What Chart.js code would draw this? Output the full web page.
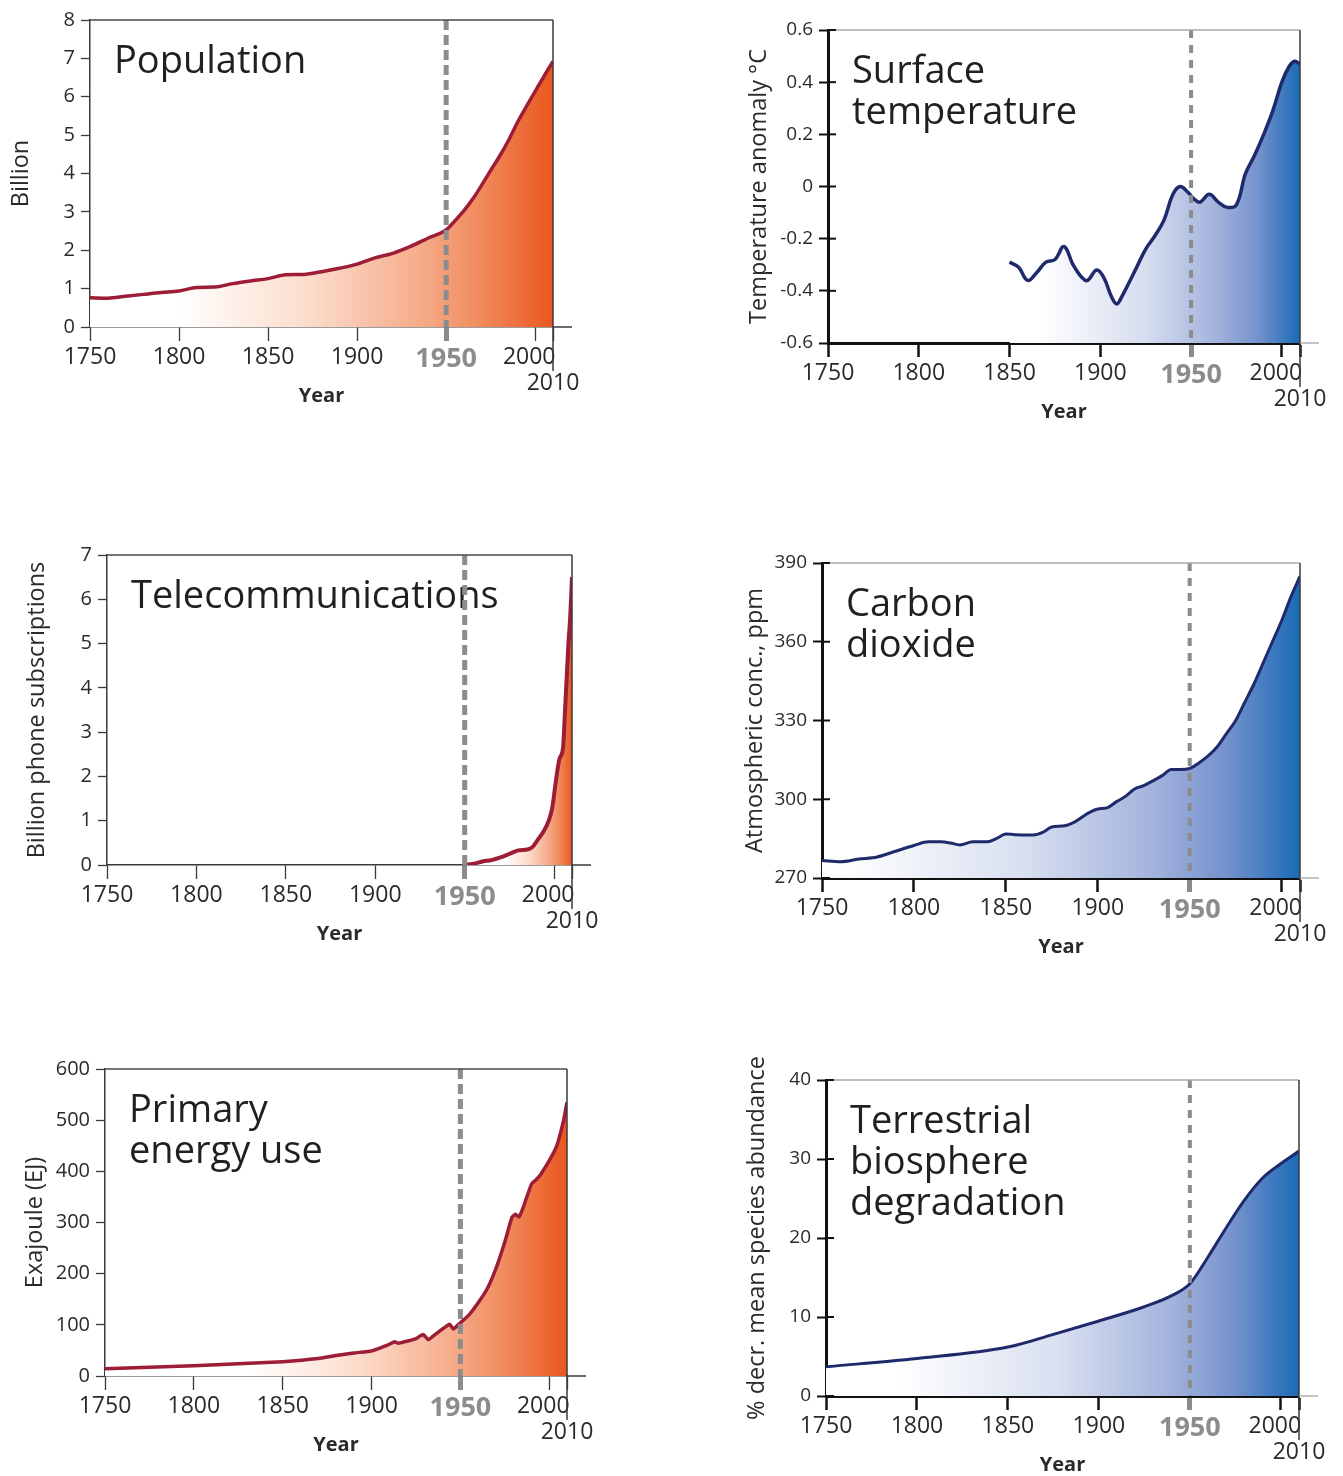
<!DOCTYPE html>
<html>
<head>
<meta charset="utf-8">
<title>Socio-economic and Earth system trends</title>
<script src="https://cdn.jsdelivr.net/npm/chart.js@4.4.1/dist/chart.umd.min.js"></script>
<style>
  body { margin: 0; background: #fff; }
  canvas { position: absolute; }
</style>
</head>
<body>
<canvas id="popChart" width="640" height="430" style="left:0;top:0"></canvas>
<canvas id="tempChart" width="613" height="440" style="left:730px;top:0"></canvas>
<canvas id="phoneChart" width="640" height="440" style="left:0;top:520px"></canvas>
<canvas id="co2Chart" width="613" height="450" style="left:730px;top:520px"></canvas>
<canvas id="energyChart" width="640" height="446" style="left:0;top:1030px"></canvas>
<canvas id="bioChart" width="613" height="436" style="left:730px;top:1040px"></canvas>

<script>
// shared year axis
const yearTicks = [1750, 1800, 1850, 1900, 1950, 2000, 2010];
const yearTickLabels = ["1750", "1800", "1850", "1900", "1950", "2000  ", ["", "2010"]];
const markYear = 1950;

// population, billion
const popYears = [1750, 1760, 1770, 1780, 1790, 1800, 1810, 1820, 1830, 1840, 1850, 1860, 1870, 1880, 1890, 1900, 1910, 1920, 1930, 1940, 1950, 1955, 1960, 1965, 1970, 1975, 1980, 1985, 1990, 1995, 2000, 2005, 2010];
const popBillion = [0.76, 0.75, 0.8, 0.85, 0.9, 0.94, 1.03, 1.04, 1.13, 1.2, 1.26, 1.36, 1.37, 1.44, 1.53, 1.64, 1.8, 1.92, 2.1, 2.32, 2.53, 2.77, 3.03, 3.34, 3.7, 4.08, 4.45, 4.86, 5.33, 5.74, 6.14, 6.54, 6.92];
const popTicks = [0, 1, 2, 3, 4, 5, 6, 7, 8];

// surface temperature anomaly, °C
const tempYears = [1850, 1855, 1860, 1865, 1870, 1875, 1880, 1885, 1890, 1893, 1898, 1902, 1906, 1909, 1912, 1920, 1925, 1930, 1935, 1940, 1944, 1948, 1952, 1955, 1960, 1965, 1970, 1975, 1980, 1985, 1990, 1995, 2000, 2004, 2007, 2010];
const tempAnomaly = [-0.29, -0.31, -0.36, -0.33, -0.29, -0.28, -0.23, -0.3, -0.35, -0.36, -0.32, -0.35, -0.42, -0.45, -0.42, -0.31, -0.24, -0.19, -0.13, -0.03, 0.0, -0.02, -0.05, -0.06, -0.03, -0.06, -0.08, -0.07, 0.05, 0.12, 0.2, 0.29, 0.4, 0.46, 0.48, 0.47];
const tempTicks = [-0.6, -0.4, -0.2, 0, 0.2, 0.4, 0.6];
const tempTickLabels = ["-0.6", "-0.4", "-0.2", "0", "0.2", "0.4", "0.6"];

// phone subscriptions, billion
const phoneYears = [1950, 1955, 1960, 1965, 1970, 1975, 1980, 1985, 1988, 1991, 1994, 1997, 1999, 2001, 2003, 2005, 2006, 2007, 2008, 2009, 2010];
const phoneBillion = [0.0, 0.03, 0.08, 0.11, 0.17, 0.25, 0.33, 0.35, 0.41, 0.58, 0.75, 1.0, 1.3, 1.9, 2.4, 2.65, 3.4, 4.2, 5.0, 5.6, 6.5];
const phoneTicks = [0, 1, 2, 3, 4, 5, 6, 7];

// atmospheric CO2, ppm
const co2Years = [1750, 1760, 1770, 1780, 1790, 1800, 1808, 1815, 1820, 1825, 1832, 1840, 1845, 1850, 1855, 1865, 1870, 1875, 1882, 1888, 1895, 1900, 1905, 1910, 1915, 1920, 1925, 1930, 1935, 1940, 1945, 1950, 1955, 1960, 1965, 1970, 1975, 1980, 1985, 1990, 1995, 2000, 2005, 2010];
const co2Ppm = [276.7, 276.2, 277.2, 278, 280.2, 282.4, 283.8, 283.8, 283.3, 282.6, 283.8, 283.8, 285.1, 286.8, 286.5, 286.4, 287.4, 289.4, 289.9, 291.6, 294.8, 296.3, 296.7, 299, 301.1, 303.9, 305.2, 307, 309, 311.3, 311.3, 311.7, 313.8, 316.5, 320, 325, 330, 337, 344, 352, 360, 368, 377, 385];
const co2Ticks = [270, 300, 330, 360, 390];

// primary energy use, EJ
const energyYears = [1750, 1775, 1800, 1825, 1850, 1870, 1880, 1890, 1900, 1905, 1910, 1913, 1915, 1920, 1925, 1929, 1932, 1935, 1940, 1944, 1946, 1950, 1955, 1960, 1965, 1970, 1975, 1979, 1981, 1983, 1985, 1990, 1993, 1995, 2000, 2003, 2005, 2008, 2010];
const energyEJ = [14, 17, 20, 24, 28, 34, 40, 45, 49, 55, 62, 67, 64, 68, 73, 81, 71, 79, 92, 101, 92, 104, 120, 143, 170, 210, 262, 310, 316, 311, 326, 375, 385, 393, 421, 440, 458, 498, 535];
const energyTicks = [0, 100, 200, 300, 400, 500, 600];

// terrestrial biosphere degradation, % decrease in mean species abundance
const bioYears = [1750, 1800, 1850, 1875, 1900, 1925, 1940, 1950, 1960, 1970, 1980, 1990, 2000, 2010];
const bioPercent = [3.7, 4.75, 6.2, 7.8, 9.5, 11.3, 12.7, 14.2, 17.6, 21.3, 24.8, 27.6, 29.4, 31.0];
const bioTicks = [0, 10, 20, 30, 40];

const FONT = '"Open Sans", "Noto Sans", sans-serif';
const TEXT = "#2a2a2a";

const warmStops = [[0, "#ffffff"], [0.35, "#fcdccb"], [0.62, "#f6b090"], [0.8, "#f18c5f"], [1, "#e9571e"]];
const coolStops = [[0, "#ffffff"], [0.4, "#d8dff0"], [0.68, "#a3b3dc"], [0.84, "#7592cd"], [1, "#1a6ab6"]];

function areaFill(stops, fromYear) {
    return (context) => {
        const { ctx, chartArea, scales } = context.chart;
        if (!chartArea) return null;
        const x0 = scales.x.getPixelForValue(fromYear);
        const x1 = scales.x.getPixelForValue(2010);
        const g = ctx.createLinearGradient(x0, 0, x1, 0);
        stops.forEach(([t, c]) => g.addColorStop(t, c));
        return g;
    };
}

function strokeLine(ctx, x0, y0, x1, y1) {
    ctx.beginPath();
    ctx.moveTo(x0, y0);
    ctx.lineTo(x1, y1);
    ctx.stroke();
}

// heading, 1950 marker and frame pieces
const panelDecor = {
    id: "panelDecor",
    beforeDatasetsDraw(chart, args, o) {
        const { ctx, chartArea: a } = chart;
        ctx.save();
        ctx.font = "38px " + FONT;
        ctx.fillStyle = "#231f20";
        ctx.textBaseline = "middle";
        o.heading.forEach((line, i) => ctx.fillText(line, a.left + 24, a.top + 42 + i * 41));
        ctx.restore();
    },
    afterDatasetsDraw(chart, args, o) {
        const { ctx, chartArea: a, scales } = chart;
        const xm = scales.x.getPixelForValue(markYear);
        ctx.save();
        ctx.strokeStyle = "#8c8c8c";
        ctx.lineWidth = o.dashWidth;
        ctx.setLineDash(o.dash);
        strokeLine(ctx, xm, a.top, xm, a.bottom);
        ctx.restore();
    },
    afterDraw(chart, args, o) {
        const { ctx, chartArea: a, scales } = chart;
        ctx.save();
        ctx.lineCap = "butt";
        ctx.strokeStyle = o.topColor;
        ctx.lineWidth = o.topWidth;
        strokeLine(ctx, a.left, a.top, a.right, a.top);
        ctx.strokeStyle = "#3a3a3a";
        ctx.lineWidth = 1.5;
        strokeLine(ctx, a.right, a.top, a.right, a.bottom + 44);
        ctx.strokeStyle = o.runColor;
        ctx.lineWidth = o.runWidth;
        strokeLine(ctx, a.right, a.bottom, a.right + 19, a.bottom);
        if (o.innerTicks) {
            ctx.strokeStyle = o.axisColor;
            ctx.lineWidth = 2;
            scales.y.ticks.forEach((t) => {
                const py = scales.y.getPixelForValue(t.value);
                strokeLine(ctx, a.left, py, a.left + 8, py);
            });
        }
        ctx.restore();
    },
};

function makeChart(p) {
    const bold = p.bold;
    const axisColor = bold ? "#111" : "#3a3a3a";
    const axisWidth = bold ? 3 : 1.5;
    const isMark = (c) => c.tick && c.tick.value === markYear;

    return new Chart(document.getElementById(p.id), {
        type: "line",
        data: {
            datasets: [
                {
                    data: p.years.map((yr, i) => ({ x: yr, y: p.values[i] })),
                    borderColor: p.warm ? "#9d1c36" : "#1f2a6b",
                    borderWidth: p.lineWidth,
                    backgroundColor: areaFill(p.warm ? warmStops : coolStops, p.fadeFrom),
                    fill: "start",
                    pointRadius: 0,
                    tension: p.tension,
                    cubicInterpolationMode: p.monotone ? "monotone" : "default",
                },
            ],
        },
        options: {
            responsive: false,
            animation: false,
            events: [],
            layout: { padding: { left: 0, top: p.box.top, right: p.box.right, bottom: 0 } },
            plugins: {
                legend: { display: false },
                tooltip: { enabled: false },
                panelDecor: {
                    heading: p.heading,
                    dash: bold ? [8, 7] : [10, 5],
                    dashWidth: bold ? 4 : 5,
                    topColor: bold ? "#a8a8a8" : "#4a4a4a",
                    topWidth: bold ? 1.5 : 1.3,
                    runColor: bold ? "#b0b0b0" : "#3a3a3a",
                    runWidth: 1.5,
                    innerTicks: bold,
                    axisColor: axisColor,
                },
            },
            scales: {
                x: {
                    type: "linear",
                    z: 1,
                    min: 1750,
                    max: 2010,
                    afterBuildTicks: (s) => { s.ticks = yearTicks.map((v) => ({ value: v })); },
                    afterFit: (s) => { s.height = p.box.xHeight; },
                    grid: {
                        drawOnChartArea: false,
                        tickLength: 14,
                        tickColor: (c) => (isMark(c) ? "#8c8c8c" : axisColor),
                        tickWidth: (c) => (isMark(c) ? 5 : bold ? 2.5 : 1.3),
                    },
                    border: { color: axisColor, width: axisWidth },
                    ticks: {
                        autoSkip: false,
                        maxRotation: 0,
                        minRotation: 0,
                        padding: 3,
                        callback: (v, i) => yearTickLabels[i],
                        color: (c) => (isMark(c) ? "#8c8c8c" : TEXT),
                        font: (c) => (isMark(c)
                            ? { family: FONT, size: 27, weight: "bold", lineHeight: 1.15 }
                            : { family: FONT, size: 23, lineHeight: 1.15 }),
                    },
                    title: {
                        display: true,
                        text: "Year",
                        color: TEXT,
                        font: { family: FONT, size: 20, weight: "bold", lineHeight: 1 },
                        padding: { top: 0, bottom: p.box.xTitlePad },
                    },
                },
                y: {
                    z: 1,
                    min: p.yTicks[0],
                    max: p.yTicks[p.yTicks.length - 1],
                    afterBuildTicks: (s) => { s.ticks = p.yTicks.map((v) => ({ value: v })); },
                    afterFit: (s) => { s.width = p.box.yWidth; },
                    grid: {
                        drawOnChartArea: false,
                        tickLength: 9,
                        tickColor: axisColor,
                        tickWidth: bold ? 2 : 1.3,
                    },
                    border: { color: axisColor, width: axisWidth },
                    ticks: {
                        padding: 6,
                        color: TEXT,
                        font: { family: FONT, size: bold ? 19 : 20 },
                        callback: (v, i) => (p.yTickLabels ? p.yTickLabels[i] : String(v)),
                    },
                    title: {
                        display: true,
                        text: p.yTitle,
                        color: TEXT,
                        font: { family: FONT, size: 23.5, lineHeight: 1 },
                        padding: { top: p.box.yTitlePad, bottom: 0 },
                    },
                },
            },
        },
        plugins: [panelDecor],
    });
}

makeChart({
    id: "popChart", years: popYears, values: popBillion, yTicks: popTicks,
    yTitle: "Billion", heading: ["Population"], warm: true, bold: false,
    fadeFrom: 1800, lineWidth: 3.5, tension: 0.3, monotone: true,
    box: { top: 20, right: 87, yWidth: 90, xHeight: 103, yTitlePad: 10, xTitlePad: 24 },
});

makeChart({
    id: "tempChart", years: tempYears, values: tempAnomaly, yTicks: tempTicks, yTickLabels: tempTickLabels,
    yTitle: "Temperature anomaly °C", heading: ["Surface", "temperature"], warm: false, bold: true,
    fadeFrom: 1865, lineWidth: 3.5, tension: 0.4, monotone: false,
    box: { top: 30, right: 43, yWidth: 98, xHeight: 97, yTitlePad: 18, xTitlePad: 18 },
});

makeChart({
    id: "phoneChart", years: phoneYears, values: phoneBillion, yTicks: phoneTicks,
    yTitle: "Billion phone subscriptions", heading: ["Telecommunications"], warm: true, bold: false,
    fadeFrom: 1972, lineWidth: 4, tension: 0.2, monotone: true,
    box: { top: 35, right: 68, yWidth: 107, xHeight: 95, yTitlePad: 26, xTitlePad: 16 },
});

makeChart({
    id: "co2Chart", years: co2Years, values: co2Ppm, yTicks: co2Ticks,
    yTitle: "Atmospheric conc., ppm", heading: ["Carbon", "dioxide"], warm: false, bold: true,
    fadeFrom: 1760, lineWidth: 3, tension: 0.3, monotone: true,
    box: { top: 43, right: 43, yWidth: 92, xHeight: 92, yTitlePad: 14, xTitlePad: 13 },
});

makeChart({
    id: "energyChart", years: energyYears, values: energyEJ, yTicks: energyTicks,
    yTitle: "Exajoule (EJ)", heading: ["Primary", "energy use"], warm: true, bold: false,
    fadeFrom: 1830, lineWidth: 3.5, tension: 0.15, monotone: false,
    box: { top: 39, right: 73, yWidth: 105, xHeight: 100, yTitlePad: 24, xTitlePad: 21 },
});

makeChart({
    id: "bioChart", years: bioYears, values: bioPercent, yTicks: bioTicks,
    yTitle: "% decr. mean species abundance", heading: ["Terrestrial", "biosphere", "degradation"], warm: false, bold: true,
    fadeFrom: 1790, lineWidth: 3, tension: 0.4, monotone: true,
    box: { top: 40, right: 44, yWidth: 96, xHeight: 80, yTitlePad: 16, xTitlePad: 1 },
});
</script>
</body>
</html>
